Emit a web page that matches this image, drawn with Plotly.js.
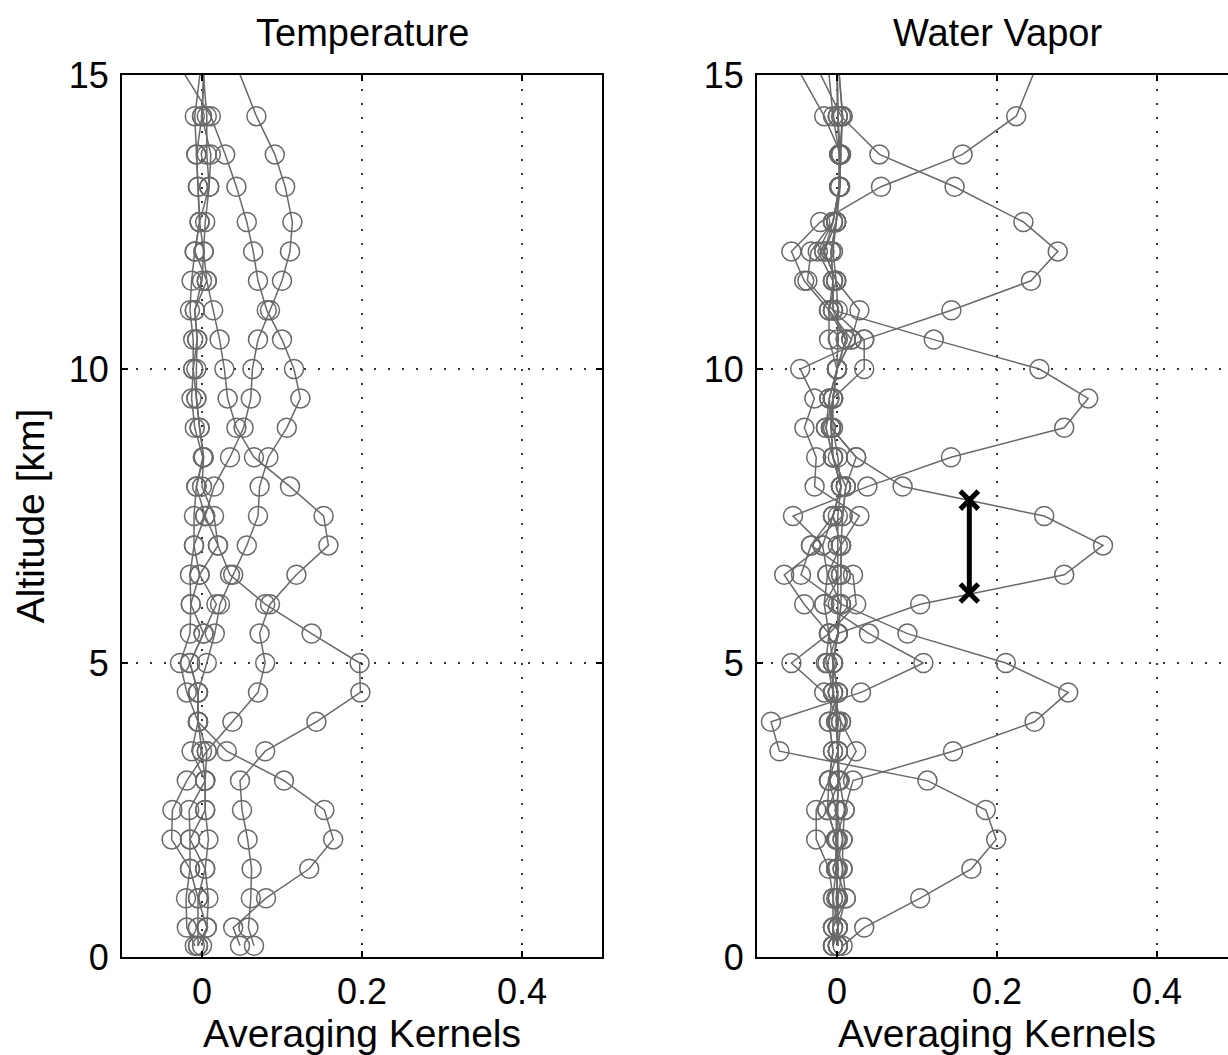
<!DOCTYPE html>
<html>
<head>
<meta charset="utf-8">
<script src="https://cdn.plot.ly/plotly-3.0.1.min.js"></script>
<style>
html, body { margin: 0; padding: 0; overflow: hidden; background: #fff; }
#chart { width: 1238px; height: 1055px; }
</style>
</head>
<body>
<div id="chart"></div>
<script>
// Altitude levels [km] (the last level lies above the plotted range)
const altitude = [0.19, 0.5, 1.0, 1.5, 2.0, 2.5, 3.0, 3.5, 4.0, 4.5, 5.0, 5.5, 6.0, 6.5, 7.0, 7.5, 8.0, 8.5, 9.0, 9.5, 10.0, 10.5, 11.0, 11.5, 12.0, 12.5, 13.1, 13.65, 14.3, 15.3];

// Temperature averaging kernels
const tempK2   = [0.0475, 0.039, 0.080, 0.134, 0.164, 0.153, 0.1025, 0.031, -0.005, -0.019, -0.0275, -0.015, -0.014, -0.015, -0.010, -0.010, -0.007, 0.001, -0.009, -0.013, -0.011, -0.011, -0.015, -0.013, -0.009, -0.003, -0.005, -0.007, -0.009, 0.000];
const tempK5   = [0.065, 0.058, 0.061, 0.062, 0.057, 0.050, 0.0475, 0.079, 0.143, 0.198, 0.197, 0.137, 0.079, 0.035, 0.020, 0.015, 0.000, 0.002, -0.003, -0.007, -0.007, -0.006, -0.009, 0.000, 0.002, 0.004, 0.009, 0.006, 0.006, 0.000];
const tempK7   = [-0.009, -0.019, -0.020, -0.015, -0.038, -0.037, -0.019, 0.006, 0.038, 0.070, 0.079, 0.072, 0.085, 0.118, 0.158, 0.152, 0.110, 0.065, 0.043, 0.032, 0.028, 0.022, 0.014, 0.006, 0.002, -0.003, -0.005, -0.007, 0.000, 0.003];
const tempK95  = [-0.005, -0.005, -0.005, 0.004, 0.008, 0.004, 0.004, 0.000, -0.005, -0.005, 0.006, 0.016, 0.0225, 0.039, 0.056, 0.070, 0.072, 0.083, 0.106, 0.123, 0.115, 0.100, 0.081, 0.070, 0.064, 0.056, 0.043, 0.029, 0.011, -0.035];
const tempKtop = [0.000, 0.006, 0.008, 0.004, -0.015, -0.016, 0.004, -0.013, -0.005, -0.005, -0.015, 0.002, 0.018, -0.003, 0.020, 0.004, 0.015, 0.035, 0.052, 0.061, 0.063, 0.070, 0.085, 0.100, 0.110, 0.113, 0.104, 0.091, 0.068, 0.039];
const tempNear = [-0.005, 0.006, -0.005, -0.015, -0.015, 0.004, 0.004, 0.006, -0.005, -0.005, -0.015, 0.002, -0.014, -0.003, -0.010, 0.004, -0.007, 0.002, -0.003, -0.007, -0.011, -0.006, -0.009, 0.006, -0.009, -0.003, 0.009, 0.011, 0.000, 0.003];

// Water vapor averaging kernels
const wvK2    = [0.007, 0.034, 0.104, 0.168, 0.199, 0.186, 0.113, -0.072, -0.0825, 0.030, 0.108, 0.040, -0.016, -0.012, -0.018, -0.005, 0.005, -0.005, -0.0075, -0.005, 0.000, 0.011, -0.005, -0.005, -0.0075, -0.001, 0.003, 0.003, 0.001, 0.000];
const wvK45   = [-0.005, -0.005, 0.011, 0.007, 0.007, 0.0096, 0.020, 0.145, 0.247, 0.289, 0.211, 0.088, 0.005, -0.045, -0.0325, 0.007, 0.011, -0.005, -0.0138, -0.0096, 0.000, 0.018, -0.010, -0.001, -0.016, -0.001, 0.003, 0.005, 0.007, 0.001];
const wvK7    = [0.001, 0.001, 0.001, -0.001, -0.001, -0.012, 0.003, 0.024, 0.005, -0.005, -0.012, 0.001, 0.104, 0.284, 0.3325, 0.259, 0.082, 0.024, -0.0075, -0.005, 0.034, 0.034, -0.005, -0.005, -0.024, -0.005, 0.003, 0.003, 0.001, 0.000];
const wvK95   = [-0.005, -0.005, -0.005, -0.010, -0.026, -0.026, -0.010, -0.005, -0.010, -0.005, -0.005, -0.010, -0.041, -0.066, -0.018, -0.055, 0.038, 0.1425, 0.284, 0.314, 0.253, 0.121, -0.005, -0.037, -0.0325, -0.005, 0.003, 0.003, -0.005, -0.012];
const wvK12   = [0.001, 0.001, -0.005, -0.001, 0.007, -0.001, -0.010, 0.001, -0.001, 0.001, -0.014, -0.010, -0.016, 0.005, 0.005, 0.028, -0.028, -0.026, -0.0408, -0.0283, -0.046, 0.034, 0.143, 0.2425, 0.276, 0.233, 0.147, 0.053, 0.005, -0.031];
const wvKtop  = [-0.005, 0.001, 0.001, 0.007, -0.001, 0.0096, 0.003, 0.001, 0.005, -0.016, -0.057, -0.010, 0.024, 0.020, -0.0325, -0.005, 0.005, -0.005, -0.0138, -0.005, 0.000, 0.011, -0.010, -0.041, -0.057, -0.021, 0.055, 0.157, 0.224, 0.254];
const wvNear1 = [0.001, -0.005, 0.001, -0.001, -0.001, -0.001, 0.003, 0.001, -0.001, 0.001, -0.005, 0.001, 0.005, 0.005, 0.005, 0.007, 0.011, 0.024, -0.0075, -0.005, 0.000, 0.018, 0.028, -0.001, -0.016, -0.005, 0.003, 0.005, -0.016, -0.057];
const wvNear2 = [-0.005, 0.001, 0.011, -0.001, -0.001, -0.012, -0.010, -0.005, -0.010, 0.001, -0.005, 0.001, 0.005, -0.012, 0.005, -0.005, 0.005, -0.005, -0.0075, -0.0096, 0.000, -0.010, -0.010, -0.005, -0.0075, -0.001, 0.003, 0.003, 0.007, 0.001];
const wvNear3 = [0.001, 0.001, -0.001, 0.001, 0.001, 0.001, 0.001, 0.001, 0.001, -0.005, -0.005, 0.001, 0.001, 0.001, 0.001, 0.001, 0.005, 0.001, -0.005, -0.005, 0.000, 0.001, 0.001, -0.001, -0.005, -0.001, 0.004, 0.004, 0.001, 0.000];

// Vertical resolution marker (water vapor panel)
const resX = [0.1654, 0.1654];
const resZ = [6.19, 7.77];

// Tick labels
const xTickVals = [0, 0.2, 0.4];
const xTickText = ['0', '0.2', '0.4'];
const yTickVals = [0, 5, 10, 15];
const yTickText = ['0', '5', '10', '15'];

const gray = 'rgb(105,105,105)';
function kernelTrace(vals, xa, ya) {
  return {
    x: vals, y: altitude, xaxis: xa, yaxis: ya,
    type: 'scatter', mode: 'lines+markers', cliponaxis: true,
    line: { color: gray, width: 1.5 },
    marker: { symbol: 'circle-open', size: 19, color: gray, line: { width: 1.5 } },
    hoverinfo: 'skip', showlegend: false
  };
}

const traces = [];
[tempK2, tempK5, tempK7, tempK95, tempKtop, tempNear].forEach(k => traces.push(kernelTrace(k, 'x', 'y')));
[wvK2, wvK45, wvK7, wvK95, wvK12, wvKtop, wvNear1, wvNear2, wvNear3].forEach(k => traces.push(kernelTrace(k, 'x2', 'y2')));
traces.push({
  x: resX, y: resZ, xaxis: 'x2', yaxis: 'y2', type: 'scatter', mode: 'lines+markers',
  line: { color: 'black', width: 5 },
  marker: { symbol: 'x-thin', size: 18, color: 'black', line: { color: 'black', width: 5 } },
  hoverinfo: 'skip', showlegend: false
});

const W = 1238, H = 1055;
const FAM = 'Liberation Sans, Arial, Helvetica, sans-serif';
const tickFont = { family: FAM, size: 36, color: 'black' };
const labelFont = { family: FAM, size: 39, color: 'black' };
const titleFont = { family: FAM, size: 38, color: 'black' };
function xAxis(d0, d1, anchor) {
  return {
    domain: [d0 / W, d1 / W], anchor: anchor, range: [-0.1, 0.5],
    tickvals: xTickVals, ticktext: xTickText,
    showline: true, linecolor: 'black', linewidth: 2, mirror: 'ticks',
    ticks: 'inside', ticklen: 6, tickwidth: 1.5, tickcolor: 'black',
    showgrid: true, gridcolor: '#333', gridwidth: 1.3, griddash: '1.5px,12.5px',
    zeroline: false, tickfont: tickFont, ticklabelstandoff: 2,
    title: { text: 'Averaging Kernels', font: labelFont, standoff: 0 }
  };
}
function yAxis(anchor, withTitle) {
  const ax = {
    domain: [1 - 957 / H, 1 - 75 / H], anchor: anchor, range: [0, 15],
    tickvals: yTickVals, ticktext: yTickText,
    showline: true, linecolor: 'black', linewidth: 2, mirror: 'ticks',
    ticks: 'inside', ticklen: 6, tickwidth: 1.5, tickcolor: 'black',
    showgrid: true, gridcolor: '#333', gridwidth: 1.3, griddash: '1.5px,12.5px',
    zeroline: false, tickfont: tickFont, ticklabelstandoff: 4
  };
  if (withTitle) ax.title = { text: 'Altitude [km]', font: labelFont, standoff: 12 };
  return ax;
}

const layout = {
  width: W, height: H,
  margin: { l: 0, r: 0, t: 0, b: 0 },
  paper_bgcolor: 'white', plot_bgcolor: 'white',
  showlegend: false,
  xaxis: xAxis(122, 602, 'y'),
  yaxis: yAxis('x', true),
  xaxis2: xAxis(757, 1237, 'y2'),
  yaxis2: yAxis('x2', false),
  annotations: [
    { text: 'Temperature', xref: 'paper', yref: 'paper', x: 362 / W, y: 1 - 33 / H, xanchor: 'center', yanchor: 'middle', showarrow: false, font: titleFont },
    { text: 'Water Vapor', xref: 'paper', yref: 'paper', x: 997 / W, y: 1 - 33 / H, xanchor: 'center', yanchor: 'middle', showarrow: false, font: titleFont }
  ]
};

Plotly.newPlot('chart', traces, layout, { staticPlot: true, displayModeBar: false });
</script>
</body>
</html>
